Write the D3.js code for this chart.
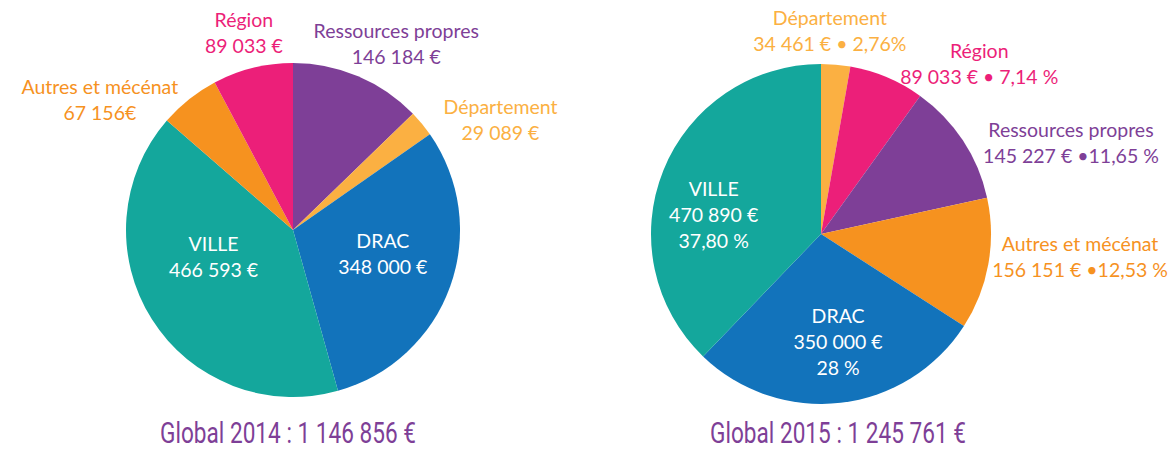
<!DOCTYPE html>
<html>
<head>
  <meta charset="utf-8">
  <title>Budget 2014 / 2015</title>
  <script src="https://cdn.jsdelivr.net/npm/d3@7/dist/d3.min.js"></script>
  <style>
    body { margin: 0; background: #fff; }
  </style>
</head>
<body>
  <svg width="1170" height="449" id="mainsvg"></svg>
  <script>
    // données 2014
    const cats2014 = ['Ressources propres', 'Département', 'DRAC', 'VILLE', 'Autres et mécénat', 'Région'];
    const values2014 = [146184, 29089, 348000, 466593, 67156, 89033];
    const labels2014 = [
      ['Ressources propres', '146 184 €'],
      ['Département', '29 089 €'],
      ['DRAC', '348 000 €'],
      ['VILLE', '466 593 €'],
      ['Autres et mécénat', '67 156€'],
      ['Région', '89 033 €']
    ];
    const title2014 = 'Global 2014 : 1 146 856 €';

    // données 2015
    const cats2015 = ['Département', 'Région', 'Ressources propres', 'Autres et mécénat', 'DRAC', 'VILLE'];
    const values2015 = [34461, 89033, 145227, 156151, 350000, 470890];
    const labels2015 = [
      ['Département', '34 461 € • 2,76%'],
      ['Région', '89 033 € • 7,14 %'],
      ['Ressources propres', '145 227 € •11,65 %'],
      ['Autres et mécénat', '156 151 € •12,53 %'],
      ['DRAC', '350 000 €', '28 %'],
      ['VILLE', '470 890 €', '37,80 %']
    ];
    const title2015 = 'Global 2015 : 1 245 761 €';

    const colors = {
      'VILLE': '#14a79c',
      'DRAC': '#1273bb',
      'Ressources propres': '#7e3f97',
      'Région': '#ec1f79',
      'Autres et mécénat': '#f6921f',
      'Département': '#fbb042'
    };
    const inside = ['VILLE', 'DRAC'];

    // placement des étiquettes : angle (degrés) et distance au centre
    const layout2014 = [[29, 213], [62, 235], [105, 93], [251, 84], [304, 233], [346, 203]];
    const layout2015 = [[2.5, 203], [43, 232], [70, 266], [95, 260], [171, 109], [280, 109]];

    const svg = d3.select('#mainsvg');
    const lineH = 26;
    const fontSize = 19.5;

    const drawPie = function (cx, cy, r, cats, values, labels, layout, title, titleX) {
      const g = svg.append('g').attr('transform', `translate(${cx}, ${cy})`);
      const pie = d3.pie().sort(null).value(d => d.v);
      const data = cats.map((c, i) => ({ c: c, v: values[i], lines: labels[i], pos: layout[i] }));
      const arcs = pie(data);
      const arc = d3.arc().innerRadius(0).outerRadius(r);

      g.selectAll('path').data(arcs).join('path')
        .attr('d', arc)
        .attr('fill', d => colors[d.data.c]);

      g.selectAll('text.lab').data(arcs).join('text')
        .attr('class', 'lab')
        .attr('text-anchor', 'middle')
        .attr('font-family', 'Lato, "Open Sans", sans-serif')
        .attr('font-size', fontSize)
        .attr('fill', d => inside.includes(d.data.c) ? '#fff' : colors[d.data.c])
        .each(function (d) {
          const a = d.data.pos[0] * Math.PI / 180;
          const x = Math.sin(a) * d.data.pos[1];
          const y = -Math.cos(a) * d.data.pos[1];
          const n = d.data.lines.length;
          const y0 = y - (n - 1) * lineH / 2 + fontSize * 0.36;
          d3.select(this).selectAll('tspan').data(d.data.lines).join('tspan')
            .attr('x', x)
            .attr('y', (t, i) => y0 + i * lineH)
            .text(t => t);
        });

      // titre (police étroite simulée)
      svg.append('g')
        .attr('transform', `translate(${titleX}, 443) scale(0.78, 1)`)
        .append('text')
        .attr('text-anchor', 'middle')
        .attr('font-family', 'Roboto, "Liberation Sans", sans-serif')
        .attr('font-size', 29)
        .attr('fill', '#7e3f97')
        .text(title);
    };

    drawPie(293, 230, 167, cats2014, values2014, labels2014, layout2014, title2014, 288);
    drawPie(821, 234, 170, cats2015, values2015, labels2015, layout2015, title2015, 838);
  </script>
</body>
</html>
